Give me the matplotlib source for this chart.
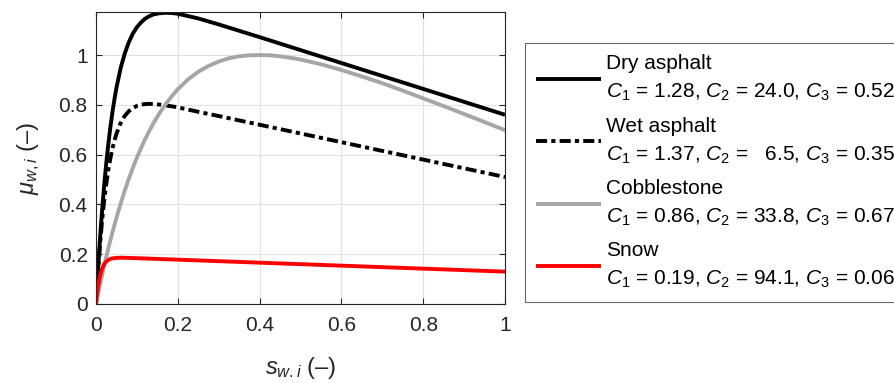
import matplotlib
matplotlib.use('Agg')
import matplotlib.pyplot as plt
from matplotlib.ticker import FormatStrFormatter

# slip values - asphalt curves share one set of slips
slip_asphalt = [0, 0.005, 0.01, 0.015, 0.02, 0.025, 0.03, 0.035, 0.04, 0.045, 0.05,
                0.06, 0.07, 0.08, 0.09, 0.10, 0.11, 0.12, 0.13, 0.14,
                0.155, 0.17, 0.185, 0.2, 0.25, 0.3, 0.4, 0.5, 0.6, 0.7, 0.8, 0.9, 1.0]
mu_dry = [0, 0.142, 0.268, 0.379, 0.478, 0.565, 0.641, 0.709, 0.769, 0.822, 0.869,
          0.946, 1.005, 1.051, 1.086, 1.112, 1.131, 1.146, 1.156, 1.163,
          1.168, 1.170, 1.169, 1.166, 1.147, 1.123, 1.072, 1.020, 0.968, 0.916, 0.864, 0.812, 0.760]
mu_wet = [0, 0.132, 0.243, 0.337, 0.416, 0.482, 0.538, 0.584, 0.624, 0.656, 0.684,
          0.726, 0.755, 0.774, 0.787, 0.796, 0.801, 0.803, 0.804, 0.803,
          0.801, 0.798, 0.794, 0.790, 0.772, 0.755, 0.720, 0.685, 0.650, 0.615, 0.580, 0.545, 0.510]

slip_cobble = [0, 0.01, 0.02, 0.03, 0.04, 0.05, 0.06, 0.07, 0.08, 0.09, 0.10,
               0.11, 0.12, 0.13, 0.14, 0.155, 0.17, 0.185, 0.2,
               0.225, 0.25, 0.275, 0.3, 0.325, 0.35, 0.375, 0.4,
               0.425, 0.45, 0.475, 0.5,
               0.55, 0.6, 0.65, 0.7, 0.75, 0.8, 0.85, 0.9, 0.95, 1.0]
mu_cobble = [0, 0.080, 0.154, 0.223, 0.287, 0.347, 0.402, 0.454, 0.502, 0.547, 0.588,
             0.626, 0.662, 0.694, 0.725, 0.766, 0.802, 0.834, 0.863,
             0.902, 0.933, 0.956, 0.974, 0.987, 0.995, 0.999, 1.000,
             0.999, 0.995, 0.989, 0.982,
             0.963, 0.940, 0.914, 0.887, 0.857, 0.826, 0.795, 0.763, 0.731, 0.698]

slip_snow = [0, 0.0025, 0.005, 0.01, 0.015, 0.02, 0.025, 0.03, 0.035, 0.04, 0.045, 0.05,
             0.06, 0.08, 0.1, 0.2, 0.4, 0.6, 0.8, 1.0]
mu_snow = [0, 0.040, 0.071, 0.115, 0.143, 0.160, 0.170, 0.177, 0.181, 0.183, 0.184, 0.185,
           0.186, 0.185, 0.184, 0.178, 0.166, 0.154, 0.142, 0.130]

surfaces = ['Dry asphalt', 'Wet asphalt', 'Cobblestone', 'Snow']
params = [('1.28', '24.0', '0.52'),
          ('1.37', '  6.5', '0.35'),
          ('0.86', '33.8', '0.67'),
          ('0.19', '94.1', '0.06')]

plt.rcParams['font.family'] = ['Liberation Sans', 'DejaVu Sans']
plt.rcParams['mathtext.fontset'] = 'custom'
plt.rcParams['mathtext.rm'] = 'Liberation Sans'
plt.rcParams['mathtext.it'] = 'Liberation Sans:italic'
plt.rcParams['lines.scale_dashes'] = False

fig = plt.figure(figsize=(8.94, 3.83), dpi=100)
ax = fig.add_axes([0.1074, 0.2063, 0.4575, 0.7624])

lw = 2.8
styles = [dict(color='black', ls='-'),
          dict(color='black', ls=(0, (8, 3, 3, 3))),
          dict(color='#a6a6a6', ls='-'),
          dict(color='#ff0000', ls='-')]
xs = [slip_asphalt, slip_asphalt, slip_cobble, slip_snow]
series = [mu_dry, mu_wet, mu_cobble, mu_snow]

labels = []
for name, (c1, c2, c3) in zip(surfaces, params):
    labels.append(name + '\n' +
                  r'$\mathit{C}_{\mathit{1}}$ = ' + c1 + r', $\mathit{C}_{\mathit{2}}$ = ' + c2 +
                  r', $\mathit{C}_{\mathit{3}}$ = ' + c3)

for x, ys, st, lab in zip(xs, series, styles, labels):
    ax.plot(x, ys, lw=lw, label=lab, solid_capstyle='butt', dash_capstyle='butt', **st)

ax.set_xlim(0, 1)
ax.set_ylim(0, 1.173)
ax.set_xticks([0, 0.2, 0.4, 0.6, 0.8, 1])
ax.set_yticks([0, 0.2, 0.4, 0.6, 0.8, 1])
ax.xaxis.set_major_formatter(FormatStrFormatter('%g'))
ax.yaxis.set_major_formatter(FormatStrFormatter('%g'))
ax.grid(True, color='#e0e0e0', lw=0.8)
ax.set_axisbelow(True)
ax.tick_params(direction='in', length=4, top=True, right=True, labelsize=15,
               color='#262626', labelcolor='#262626')
ax.tick_params(axis='x', pad=9)
ax.tick_params(axis='y', pad=6)
for sp in ax.spines.values():
    sp.set_color('#262626')
    sp.set_linewidth(0.8)

ax.set_xlabel(r'$s_{w.i}$ (–)', fontsize=17, color='#262626', labelpad=14)
ax.set_ylabel(r'$\mu_{w,i}$ (–)', fontsize=17, color='#262626', labelpad=12)

leg = fig.legend(loc='upper left', bbox_to_anchor=(0.587, 0.888),
                 fontsize=15, frameon=True, fancybox=False, edgecolor='#404040',
                 handlelength=3.1, handletextpad=0.25, borderaxespad=0, labelspacing=0.63,
                 borderpad=0.55)
for t in leg.get_texts():
    t.set_linespacing(1.55)
leg.get_frame().set_linewidth(0.8)

fig.savefig('out.png', dpi=100)
